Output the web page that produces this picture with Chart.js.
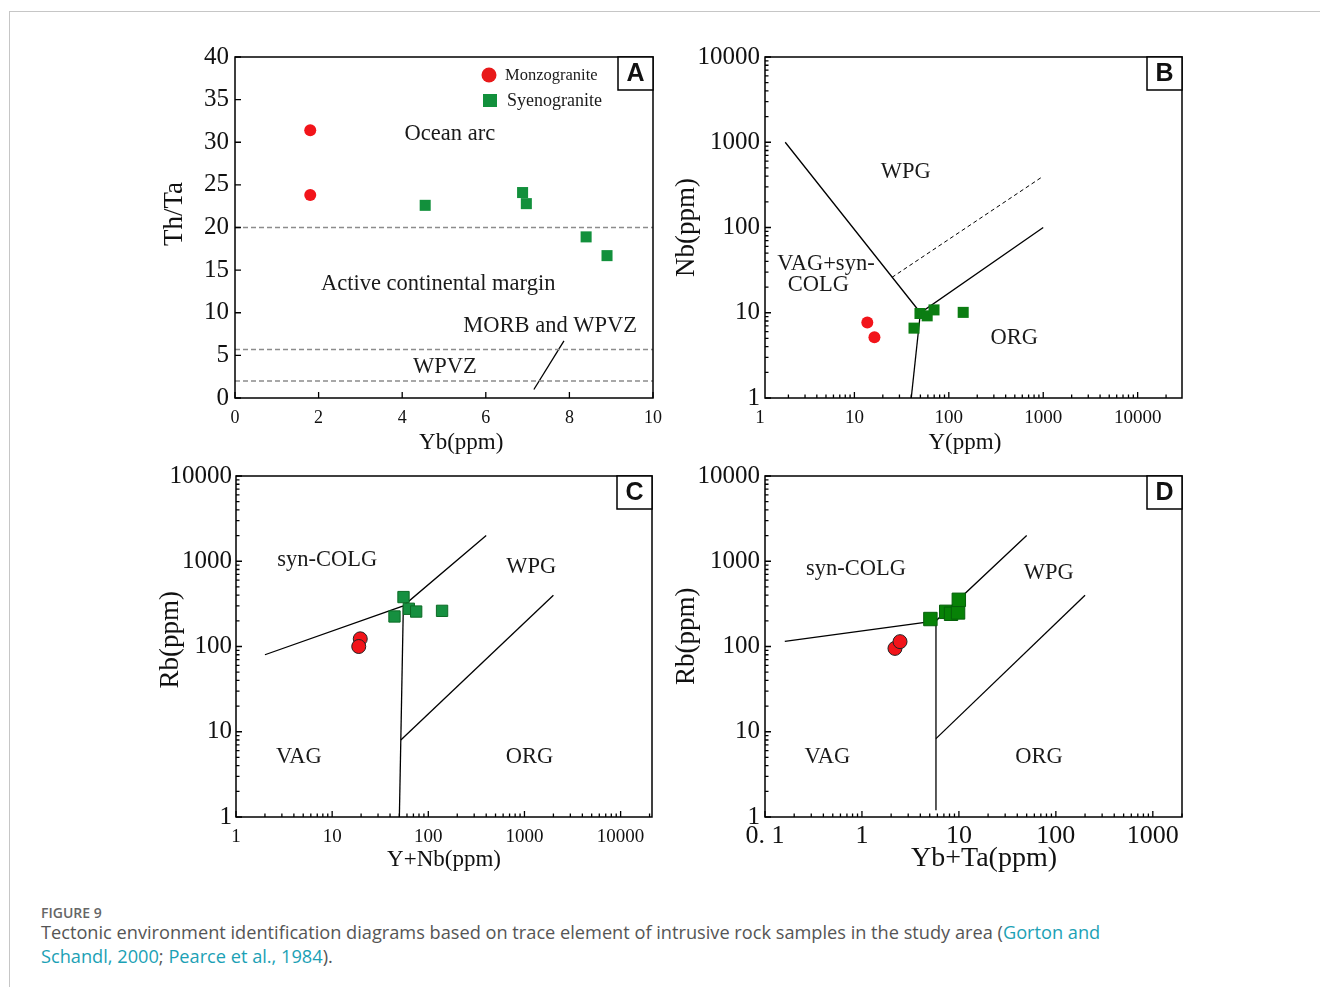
<!DOCTYPE html>
<html>
<head>
<meta charset="utf-8">
<script src="https://cdn.jsdelivr.net/npm/chart.js@4/dist/chart.umd.min.js"></script>
<style>
  body { margin: 0; background: #fff; width: 1320px; height: 987px; overflow: hidden; position: relative; }
  #frame { position: absolute; left: 9px; top: 11px; right: 0; bottom: 0;
           border-top: 1px solid #c6c6c6; border-left: 1px solid #c6c6c6; }
  .panel { position: absolute; }
  #fig { position: absolute; left: 41px; top: 903px; font: 600 14px 'Open Sans', sans-serif; color: #666; }
  #captext { position: absolute; left: 41px; top: 920px; font: 18.2px/24px 'Open Sans', sans-serif; color: #555; }
  .ref { color: #1ba1b5; }
</style>
</head>
<body>
<div id="frame"></div>
<div class="panel" id="pA"><canvas id="chartA"></canvas></div>
<div class="panel" id="pB"><canvas id="chartB"></canvas></div>
<div class="panel" id="pC"><canvas id="chartC"></canvas></div>
<div class="panel" id="pD"><canvas id="chartD"></canvas></div>
<div id="fig">FIGURE 9</div>
<div id="captext">Tectonic environment identification diagrams based on trace element of intrusive rock samples in the study area (<span class="ref">Gorton and<br>Schandl, 2000</span>; <span class="ref">Pearce et al., 1984</span>).</div>

<script>
// ---- A: Th/Ta vs Yb
const aMonzoYb = [1.8, 1.8];
const aMonzoThTa = [31.4, 23.8];
const aSyenoYb = [4.55, 6.88, 6.97, 8.4, 8.9];
const aSyenoThTa = [22.6, 24.1, 22.8, 18.9, 16.7];
const aLimits = [20, 5.7, 2];
const aPointer = [[7.15, 1.0], [7.87, 6.7]];
const aXTicks = [0, 2, 4, 6, 8, 10];
const aYTicks = [0, 5, 10, 15, 20, 25, 30, 35, 40];

// ---- B: Nb vs Y
const bMonzoY = [13.7, 16.3];
const bMonzoNb = [7.7, 5.15];
const bSyenoY = [42.8, 49.5, 59, 69.7, 142];
const bSyenoNb = [6.6, 9.8, 9.2, 10.8, 10.1];
const bSolid = [[[1.85, 1000], [50, 10], [1000, 100]], [[50, 10], [40, 1]]];
const bDashed = [[25, 26], [1000, 400]];
const bXTicks = [1, 10, 100, 1000, 10000];
const bYTicks = [1, 10, 100, 1000, 10000];

// ---- C: Rb vs Y+Nb
const cMonzoYNb = [19.6, 18.9];
const cMonzoRb = [123, 100];
const cSyenoYNb = [55.2, 44.5, 62.7, 74.8, 139];
const cSyenoRb = [380, 225, 277, 257, 262];
const cSolid = [[[2, 80], [55, 300], [400, 2000]], [[50, 1], [55, 300]], [[51.8, 8], [2000, 400]]];
const cXTicks = [1, 10, 100, 1000, 10000];
const cYTicks = [1, 10, 100, 1000, 10000];

// ---- D: Rb vs Yb+Ta
const dMonzoYbTa = [2.19, 2.47];
const dMonzoRb = [95, 114];
const dSyenoYbTa = [5.08, 7.4, 8.3, 9.8, 9.98];
const dSyenoRb = [210, 255, 242, 251, 353];
const dSolid = [[[0.16, 115], [5.8, 200], [50, 2000]], [[5.8, 1.2], [5.8, 200]], [[5.8, 8.3], [200, 400]]];
const dXTicks = [0.1, 1, 10, 100, 1000];
const dYTicks = [1, 10, 100, 1000, 10000];

const SERIF = "'Liberation Serif', 'Times New Roman', serif";

function pts(xs, ys) { return xs.map((x, i) => ({x: x, y: ys[i]})); }
function xy(arr) { return arr.map(p => ({x: p[0], y: p[1]})); }
function isDecade(v) { const l = Math.log10(v); return Math.abs(l - Math.round(l)) < 1e-9; }

function logTicks(min, max) {
  const out = [];
  for (let e = Math.floor(Math.log10(min)); e <= Math.ceil(Math.log10(max)); e++) {
    for (let m = 1; m <= 9; m++) {
      const v = +(m * Math.pow(10, e)).toPrecision(6);
      if (v >= min * 0.999 && v <= max) out.push(v);
    }
  }
  return out;
}

function lineSet(arr, opts) {
  return Object.assign({data: xy(arr), showLine: true, pointRadius: 0, borderColor: '#000',
    borderWidth: 1.3, fill: false, order: 5}, opts || {});
}

// box, inward ticks, letter, labels, legend
const decor = {
  id: 'decor',
  afterDatasetsDraw(chart, args, o) {
    const ctx = chart.ctx, a = chart.chartArea;
    const sx = chart.scales.x, sy = chart.scales.y;
    ctx.save();
    ctx.strokeStyle = '#000';
    ctx.lineWidth = 1.3;
    ctx.beginPath();
    sx.ticks.forEach(t => {
      const p = sx.getPixelForValue(t.value);
      if (p < a.left - 0.5 || p > a.right + 0.5) return;
      const len = (o.xlog && !isDecade(t.value)) ? 3.5 : 6;
      ctx.moveTo(p, a.bottom); ctx.lineTo(p, a.bottom - len);
    });
    sy.ticks.forEach(t => {
      const p = sy.getPixelForValue(t.value);
      if (p < a.top - 0.5 || p > a.bottom + 0.5) return;
      const len = (o.ylog && !isDecade(t.value)) ? 3.5 : 6;
      ctx.moveTo(a.left, p); ctx.lineTo(a.left + len, p);
    });
    ctx.stroke();
    ctx.lineWidth = 1.5;
    ctx.strokeRect(a.left, a.top, a.right - a.left, a.bottom - a.top);
    // panel letter
    ctx.fillStyle = '#fff';
    ctx.fillRect(a.right - 35, a.top, 35, 33);
    ctx.strokeRect(a.right - 35, a.top, 35, 33);
    ctx.fillStyle = '#111';
    ctx.font = "bold 25px 'Liberation Sans', Arial, sans-serif";
    ctx.textAlign = 'center'; ctx.textBaseline = 'middle';
    ctx.fillText(o.letter, a.right - 17.5, a.top + 17.5);
    // field names
    ctx.font = '22.5px ' + SERIF;
    ctx.fillStyle = '#1a1a1a';
    (o.labels || []).forEach(l => {
      ctx.fillText(l.text, sx.getPixelForValue(l.x), sy.getPixelForValue(l.y));
    });
    // legend
    if (o.legend) {
      ctx.textAlign = 'left';
      ctx.fillStyle = '#e8191a';
      ctx.beginPath(); ctx.arc(a.left + 254, a.top + 18, 7.5, 0, Math.PI * 2); ctx.fill();
      ctx.fillStyle = '#12903c';
      ctx.fillRect(a.left + 248, a.top + 37, 14, 13);
      ctx.fillStyle = '#1a1a1a';
      ctx.font = '16.5px ' + SERIF;
      ctx.fillText('Monzogranite', a.left + 270, a.top + 19);
      ctx.font = '18px ' + SERIF;
      ctx.fillText('Syenogranite', a.left + 272, a.top + 44);
    }
    ctx.restore();
  }
};

function axis(spec, horiz) {
  const s = {
    type: spec.log ? 'logarithmic' : 'linear',
    min: spec.min, max: spec.max,
    position: horiz ? 'bottom' : 'left',
    grid: {display: false, drawTicks: false},
    border: {display: false},
    ticks: {
      font: {family: SERIF, size: spec.tickSize}, color: '#111', padding: spec.tickPad,
      autoSkip: false, maxRotation: 0,
      callback: (v) => spec.labels.includes(v) ? (v === 0.1 ? '0. 1' : String(v)) : ''
    },
    title: {display: true, text: spec.title, color: '#111',
      font: {family: SERIF, size: spec.titleSize},
      padding: horiz ? {top: 0, bottom: spec.titlePad} : {top: spec.titlePad, bottom: 0}},
    afterFit: (sc) => {
      if (horiz) sc.height = spec.fit; else sc.width = spec.fit;
      sc.paddingLeft = 0; sc.paddingRight = 0; sc.paddingTop = 0; sc.paddingBottom = 0;
    },
    afterBuildTicks: (sc) => {
      const vals = spec.log ? logTicks(spec.labels[0], spec.max) : spec.labels;
      sc.ticks = vals.map(v => ({value: v}));
    }
  };
  return s;
}

function makeChart(id, box, area, cfg) {
  const panel = document.getElementById('p' + id);
  panel.style.left = box[0] + 'px'; panel.style.top = box[1] + 'px';
  const cv = document.getElementById('chart' + id);
  cv.width = box[2]; cv.height = box[3];
  const padTop = area[1] - box[1];
  const padRight = box[0] + box[2] - area[2];
  cfg.x.fit = box[1] + box[3] - area[3];
  cfg.y.fit = area[0] - box[0];
  return new Chart(cv, {
    type: 'scatter',
    data: {datasets: cfg.datasets},
    options: {
      responsive: false, animation: false, devicePixelRatio: 1,
      layout: {padding: {top: padTop, right: padRight, left: 0, bottom: 0}},
      plugins: {legend: {display: false}, tooltip: {enabled: false}, decor: cfg.decor},
      scales: {x: axis(cfg.x, true), y: axis(cfg.y, false)}
    },
    plugins: [decor]
  });
}

// leading / trailing spaces nudge the centred axis titles to where the original has them
// A
makeChart('A', [140, 30, 525, 430], [235, 57, 653, 398], {
  x: {min: 0, max: 10, labels: aXTicks, title: '      Yb(ppm)', tickSize: 18, tickPad: 9, titleSize: 23, titlePad: 3},
  y: {min: 0, max: 40, labels: aYTicks, title: '    Th/Ta', tickSize: 25, tickPad: 6, titleSize: 27, titlePad: 19},
  datasets: [
    {label: 'Monzogranite', data: pts(aMonzoYb, aMonzoThTa), pointStyle: 'circle', pointRadius: 6,
     backgroundColor: '#f2141a', borderWidth: 0, order: 1},
    {label: 'Syenogranite', data: pts(aSyenoYb, aSyenoThTa), pointStyle: 'rect', pointRadius: 7.8,
     backgroundColor: '#12903c', borderWidth: 0, order: 1},
    ...aLimits.map(v => lineSet([[0, v], [10, v]], {borderColor: '#8c8c8c', borderWidth: 1.5, borderDash: [5, 3]})),
    lineSet(aPointer)
  ],
  decor: {letter: 'A', legend: true, labels: [
    {text: 'Ocean arc', x: 5.14, y: 30.9},
    {text: 'Active continental margin', x: 4.86, y: 13.4},
    {text: 'MORB and WPVZ', x: 7.54, y: 8.4},
    {text: 'WPVZ', x: 5.02, y: 3.6}
  ]}
});

// B
makeChart('B', [665, 30, 530, 430], [765, 57, 1182, 398], {
  x: {log: true, min: 1.13, max: 29500, labels: bXTicks, title: 'Y(ppm)   ', tickSize: 19, tickPad: 9, titleSize: 23, titlePad: 3},
  y: {log: true, min: 1, max: 10000, labels: bYTicks, title: 'Nb(ppm)', tickSize: 25, tickPad: 5, titleSize: 27, titlePad: 6},
  datasets: [
    {label: 'Monzogranite', data: pts(bMonzoY, bMonzoNb), pointStyle: 'circle', pointRadius: 6,
     backgroundColor: '#f2141a', borderWidth: 0, order: 1},
    {label: 'Syenogranite', data: pts(bSyenoY, bSyenoNb), pointStyle: 'rect', pointRadius: 7.8,
     backgroundColor: '#0b7d12', borderWidth: 0, order: 1},
    ...bSolid.map(l => lineSet(l)),
    lineSet(bDashed, {borderWidth: 1, borderDash: [4, 3]})
  ],
  decor: {letter: 'B', xlog: true, ylog: true, labels: [
    {text: 'WPG', x: 35, y: 450},
    {text: 'VAG+syn-', x: 5, y: 37},
    {text: 'COLG', x: 4.15, y: 21.1},
    {text: 'ORG', x: 494, y: 5}
  ]}
});

// C
makeChart('C', [140, 460, 525, 430], [236, 476, 652, 817], {
  x: {log: true, min: 1, max: 21200, labels: cXTicks, title: 'Y+Nb(ppm)', tickSize: 19, tickPad: 9, titleSize: 23, titlePad: 16},
  y: {log: true, min: 1, max: 10000, labels: cYTicks, title: '  Rb(ppm)', tickSize: 25, tickPad: 4, titleSize: 27, titlePad: 15},
  datasets: [
    {label: 'Monzogranite', data: pts(cMonzoYNb, cMonzoRb), pointStyle: 'circle', pointRadius: 7,
     backgroundColor: '#f2141a', borderColor: '#222', borderWidth: 1, order: 1},
    {label: 'Syenogranite', data: pts(cSyenoYNb, cSyenoRb), pointStyle: 'rect', pointRadius: 8,
     backgroundColor: '#169040', borderColor: '#0d6b25', borderWidth: 1, order: 1},
    ...cSolid.map(l => lineSet(l))
  ],
  decor: {letter: 'C', xlog: true, ylog: true, labels: [
    {text: 'syn-COLG', x: 8.87, y: 1020},
    {text: 'WPG', x: 1177, y: 853},
    {text: 'VAG', x: 4.5, y: 5.1},
    {text: 'ORG', x: 1130, y: 5.1}
  ]}
});

// D
makeChart('D', [665, 460, 530, 430], [765, 476, 1182, 817], {
  x: {log: true, min: 0.1, max: 2000, labels: dXTicks, title: '   Yb+Ta(ppm)', tickSize: 26, tickPad: 4, titleSize: 28, titlePad: 15},
  y: {log: true, min: 1, max: 10000, labels: dYTicks, title: '   Rb(ppm)', tickSize: 25, tickPad: 5, titleSize: 27, titlePad: 6},
  datasets: [
    {label: 'Monzogranite', data: pts(dMonzoYbTa, dMonzoRb), pointStyle: 'circle', pointRadius: 7,
     backgroundColor: '#f2141a', borderColor: '#222', borderWidth: 1, order: 1},
    {label: 'Syenogranite', data: pts(dSyenoYbTa, dSyenoRb), pointStyle: 'rect', pointRadius: 9.5,
     backgroundColor: '#078207', borderColor: '#05600a', borderWidth: 1, order: 1},
    ...dSolid.map(l => lineSet(l))
  ],
  decor: {letter: 'D', xlog: true, ylog: true, labels: [
    {text: 'syn-COLG', x: 0.867, y: 808},
    {text: 'WPG', x: 84.5, y: 725},
    {text: 'VAG', x: 0.44, y: 5.1},
    {text: 'ORG', x: 67, y: 5.1}
  ]}
});
</script>
</body>
</html>
